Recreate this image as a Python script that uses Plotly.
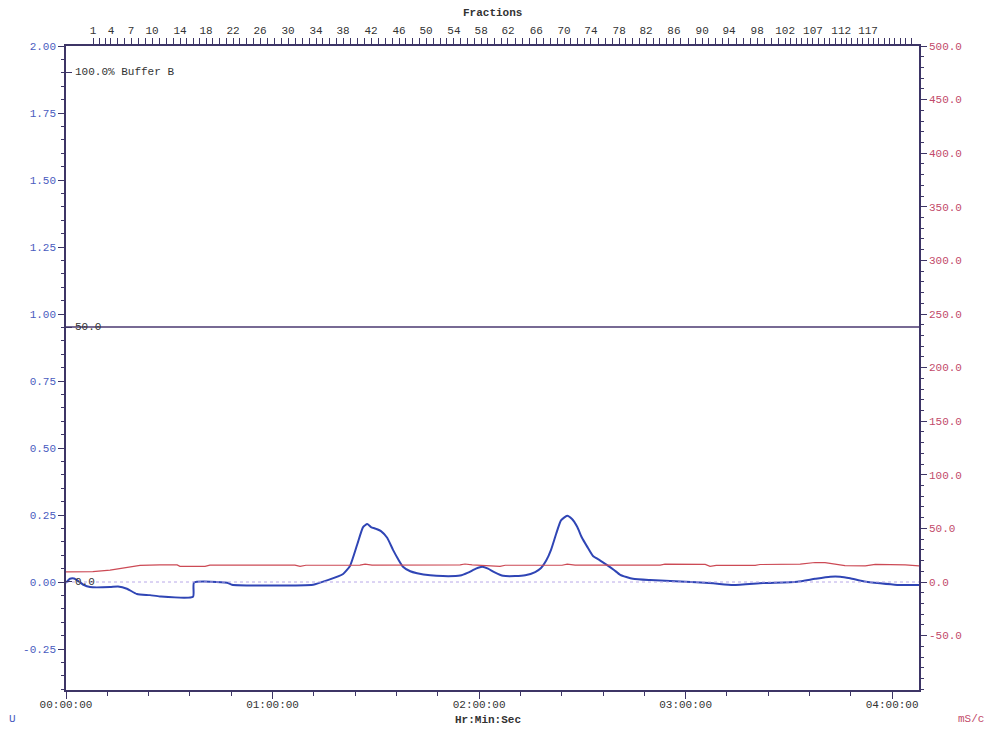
import numpy as np
import plotly.graph_objects as go

# Run time in minutes; axis spans 0 .. 04:07:48
run_end_min = 247.8

# UV absorbance trace (AU, left axis)
uv_time = [0.0, 1.16, 2.32, 3.78, 5.23, 6.97, 12.8, 15.1, 17.7, 20.6, 24.4, 27.3,
           36.9, 37.2, 46.8, 48.2, 71.8, 75.8, 80.5, 82.5, 84.6, 86.3, 87.5, 88.6,
           90.1, 91.5, 93.3, 95.0, 96.5, 97.9, 100.0, 102.0, 105.8, 109.5, 114.5,
           116.8, 119.1, 120.9, 122.6, 124.4, 127.0, 130.5, 133.4, 136.3, 138.0,
           139.5, 140.9, 142.4, 143.8, 145.6, 147.0, 148.5, 149.9, 151.4, 153.1,
           155.2, 157.2, 159.2, 161.0, 164.7, 169.7, 178.4, 188.0, 193.8, 202.5,
           212.4, 217.6, 222.0, 224.9, 227.8, 231.6, 236.5, 241.5, 247.8]
uv_au = [-0.003, 0.012, 0.013, 0.002, -0.012, -0.019, -0.019, -0.017, -0.025, -0.045,
         -0.049, -0.054, -0.055, -0.002, -0.003, -0.010, -0.010, 0.006, 0.030, 0.060,
         0.140, 0.205, 0.216, 0.205, 0.198, 0.190, 0.165, 0.120, 0.085, 0.057, 0.040,
         0.033, 0.025, 0.022, 0.024, 0.035, 0.050, 0.057, 0.050, 0.037, 0.023, 0.022,
         0.025, 0.037, 0.052, 0.080, 0.120, 0.180, 0.230, 0.247, 0.235, 0.206, 0.165,
         0.132, 0.097, 0.080, 0.063, 0.045, 0.027, 0.012, 0.007, 0.002, -0.005,
         -0.011, -0.004, 0.001, 0.012, 0.020, 0.020, 0.014, 0.003, -0.005, -0.011,
         -0.011]

# Conductivity trace (mS/cm, right axis)
cond_time = [0.0, 7.8, 12.8, 17.1, 21.5, 27.3, 32.3, 33.1, 40.4, 41.8, 66.5, 68.0,
             69.7, 85.4, 86.9, 88.9, 114.5, 115.9, 118.0, 126.1, 127.6, 144.1, 145.6,
             147.9, 172.6, 174.0, 185.7, 187.1, 188.9, 200.2, 201.6, 213.3, 217.6,
             220.5, 226.3, 232.2, 235.1, 243.8, 247.8]
cond_ms = [9.5, 9.6, 11.0, 13.0, 15.5, 15.9, 15.9, 14.6, 14.5, 15.7, 15.7, 14.5, 15.6,
           15.8, 16.6, 15.8, 15.9, 16.8, 15.9, 14.5, 15.6, 15.6, 16.7, 15.7, 15.7, 16.6,
           16.4, 14.6, 15.5, 15.5, 16.3, 16.7, 18.2, 18.0, 15.3, 15.0, 16.5, 16.0, 15.0]

# Buffer B concentration (%), isocratic at 50 %
pct_b_time = [0.0, 247.8]
pct_b = [50.0, 50.0]

# Fraction collector: labelled fractions and the run time (min) at which they fall
frac_labels = [1, 4, 7, 10, 14, 18, 22, 26, 30, 34, 38, 42, 46, 50, 54, 58, 62, 66,
               70, 74, 78, 82, 86, 90, 94, 98, 102, 107, 112, 117]
frac_label_min = [7.85, 13.07, 18.89, 24.99, 33.12, 40.68, 48.52, 56.37, 64.5, 72.64,
                  80.49, 88.62, 96.76, 104.6, 112.7, 120.6, 128.4, 136.6, 144.7, 152.5,
                  160.7, 168.5, 176.6, 184.8, 192.6, 200.8, 208.9, 217.0, 225.2, 233.0]
last_fraction = 125

# Axis tick labels
time_tick_min = [0, 60, 120, 180, 240]
time_tick_text = ["00:00:00", "01:00:00", "02:00:00", "03:00:00", "04:00:00"]
uv_tick_vals = [-0.25, 0.0, 0.25, 0.5, 0.75, 1.0, 1.25, 1.5, 1.75, 2.0]
uv_tick_text = ["-0.25", "0.00", "0.25", "0.50", "0.75", "1.00", "1.25", "1.50", "1.75", "2.00"]
cond_tick_vals = [-50, 0, 50, 100, 150, 200, 250, 300, 350, 400, 450, 500]
cond_tick_text = ["-50.0", "0.0", "50.0", "100.0", "150.0", "200.0", "250.0", "300.0",
                  "350.0", "400.0", "450.0", "500.0"]
pctb_tick_vals = [0, 50, 100]
pctb_tick_text = ["0.0", "50.0", "100.0% Buffer B"]

# Positions of every fraction mark along the time axis
all_fracs = np.arange(1, last_fraction + 1)
tail_step = (frac_label_min[-1] - frac_label_min[-2]) / (frac_labels[-1] - frac_labels[-2])
frac_x = np.interp(all_fracs, frac_labels, frac_label_min)
beyond = all_fracs > frac_labels[-1]
frac_x[beyond] = frac_label_min[-1] + (all_fracs[beyond] - frac_labels[-1]) * tail_step
frac_text = [str(f) if f in frac_labels else "" for f in all_fracs]

FONT = "Liberation Mono"
AXIS_COLOR = "#3d3566"
BLUE_TXT = "#4a5cc0"
RED_TXT = "#c24a6a"
DARK_TXT = "#333333"

fig = go.Figure()

# dotted baseline, plotted against the fraction (top) axis so that axis is drawn
fig.add_trace(go.Scatter(x=[0, run_end_min], y=[0, 0], mode="lines", xaxis="x2",
                         line=dict(color="#b8a8e8", width=1, dash="dot"),
                         hoverinfo="skip", showlegend=False))
fig.add_trace(go.Scatter(x=pct_b_time, y=pct_b, mode="lines", yaxis="y3",
                         line=dict(color="#4a3870", width=1.6), showlegend=False))
fig.add_trace(go.Scatter(x=cond_time, y=cond_ms, mode="lines", yaxis="y2",
                         line=dict(color="#cc4a55", width=1.2), showlegend=False))
fig.add_trace(go.Scatter(x=uv_time, y=uv_au, mode="lines",
                         line=dict(color="#2f45b5", width=2, shape="spline", smoothing=0.5),
                         showlegend=False))

annotations = [
    dict(text="Fractions", xref="paper", yref="paper", x=0.5, y=1.0512,
         xanchor="center", yanchor="middle", showarrow=False,
         font=dict(family=FONT, size=11, color=DARK_TXT, weight="bold")),
    dict(text="Hr:Min:Sec", xref="paper", yref="paper", x=0.4947, y=-0.047,
         xanchor="center", yanchor="middle", showarrow=False,
         font=dict(family=FONT, size=11, color=DARK_TXT, weight="bold")),
    dict(text="U", xref="paper", yref="paper", x=-0.0633, y=-0.045,
         xanchor="center", yanchor="middle", showarrow=False,
         font=dict(family=FONT, size=11, color=BLUE_TXT)),
    dict(text="mS/c", xref="paper", yref="paper", x=1.061, y=-0.045,
         xanchor="center", yanchor="middle", showarrow=False,
         font=dict(family=FONT, size=11, color=RED_TXT)),
]
# %B scale labels, written just inside the left axis
for v, t in zip(pctb_tick_vals, pctb_tick_text):
    annotations.append(dict(text=t, xref="paper", yref="y3", x=0.008, y=v,
                            xanchor="left", yanchor="middle", showarrow=False,
                            font=dict(family=FONT, size=11, color=DARK_TXT)))

fig.update_layout(
    width=994, height=731,
    margin=dict(l=66, r=75, t=46, b=41),
    paper_bgcolor="white", plot_bgcolor="white",
    font=dict(family=FONT, size=11, color=DARK_TXT),
    xaxis=dict(
        range=[0, run_end_min], tickmode="array", tickvals=time_tick_min,
        ticktext=time_tick_text, ticks="outside", ticklen=7, tickcolor=AXIS_COLOR,
        showline=True, linecolor=AXIS_COLOR, linewidth=1.5, showgrid=False,
        zeroline=False, tickfont=dict(family=FONT, size=11, color=DARK_TXT),
        ticklabelstandoff=-4,
        minor=dict(tickmode="linear", tick0=0, dtick=12, ticks="outside", ticklen=4,
                   tickcolor=AXIS_COLOR, showgrid=False),
    ),
    xaxis2=dict(
        overlaying="x", side="top", anchor="y", range=[0, run_end_min],
        tickmode="array", tickvals=frac_x.tolist(), ticktext=frac_text,
        ticks="outside", ticklen=6, tickcolor=AXIS_COLOR, tickwidth=1,
        showline=True, linecolor=AXIS_COLOR, linewidth=1.5, showgrid=False,
        zeroline=False, tickfont=dict(family=FONT, size=11, color=DARK_TXT),
    ),
    yaxis=dict(
        range=[-0.403, 2.0], tickmode="array", tickvals=uv_tick_vals,
        ticktext=uv_tick_text, ticks="outside", ticklen=6, tickcolor=AXIS_COLOR,
        showline=True, linecolor=AXIS_COLOR, linewidth=1.5, showgrid=False,
        zeroline=False, tickfont=dict(family=FONT, size=11, color=BLUE_TXT),
        minor=dict(tickmode="linear", tick0=0, dtick=0.05, ticks="outside", ticklen=3,
                   tickcolor=AXIS_COLOR, showgrid=False),
    ),
    yaxis2=dict(
        overlaying="y", side="right", anchor="x", range=[-100.75, 500],
        tickmode="array", tickvals=cond_tick_vals, ticktext=cond_tick_text,
        ticks="outside", ticklen=6, tickcolor=AXIS_COLOR,
        showline=True, linecolor=AXIS_COLOR, linewidth=1.5, showgrid=False,
        zeroline=False, tickfont=dict(family=FONT, size=11, color=RED_TXT),
        minor=dict(tickmode="linear", tick0=0, dtick=10, ticks="outside", ticklen=3,
                   tickcolor=AXIS_COLOR, showgrid=False),
    ),
    yaxis3=dict(
        overlaying="y", side="left", anchor="x", range=[-21.18, 105.1],
        tickmode="array", tickvals=pctb_tick_vals, ticks="inside", ticklen=6,
        tickcolor=AXIS_COLOR, showticklabels=False,
        showline=False, showgrid=False, zeroline=False,
    ),
    annotations=annotations,
)

fig.write_html("out.html")
